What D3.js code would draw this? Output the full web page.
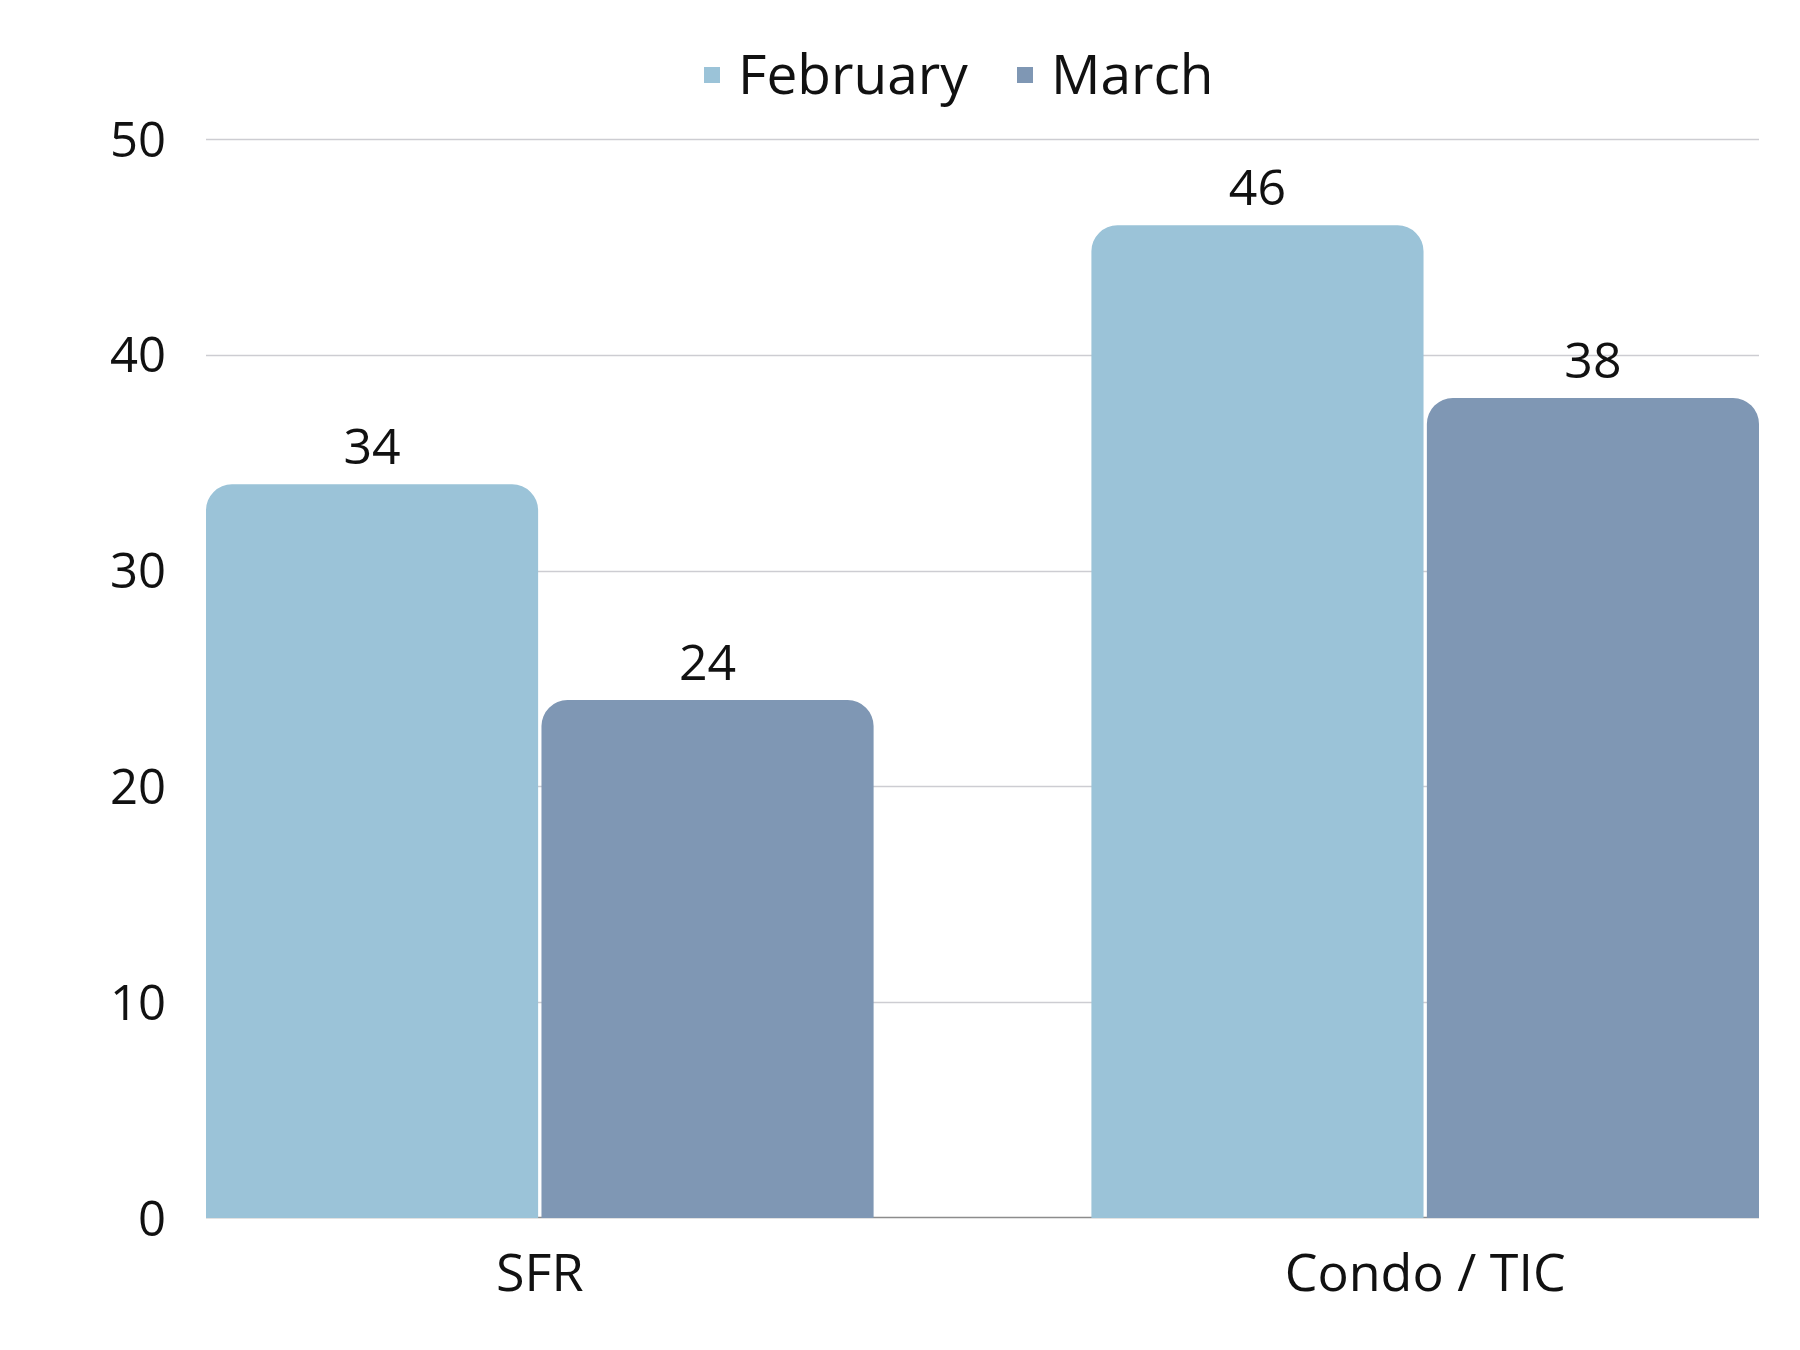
<!DOCTYPE html>
<html>
<head>
<meta charset="utf-8">
<script src="https://cdn.jsdelivr.net/npm/d3@7"></script>
<style>
  html, body { margin: 0; padding: 0; background: #fff; }
  svg { display: block; font-family: "Open Sans", "Noto Sans", sans-serif; }
</style>
</head>
<body>
<svg id="chart" width="1800" height="1350"></svg>
<script>
const categories = ["SFR", "Condo / TIC"];
const seriesNames = ["February", "March"];
const february = [34, 46];
const march = [24, 38];
const yTicks = [0, 10, 20, 30, 40, 50];
const colors = ["#9BC3D8", "#7F97B4"];

const svg = d3.select("#chart");
const W = 1800, H = 1350;
const m = { left: 206, right: 41, top: 139, bottom: 132 };
const x0 = d3.scaleBand().domain(categories).range([m.left, W - m.right]).paddingInner(0.246).paddingOuter(0);
const x1 = d3.scaleBand().domain(seriesNames).range([0, x0.bandwidth()]).paddingInner(0.01);
const y = d3.scaleLinear().domain([0, 50]).range([H - m.bottom, m.top]);

const values = { February: february, March: march };
const data = categories.map((c, i) => ({ cat: c, vals: seriesNames.map((s, j) => ({ s, v: values[s][i], color: colors[j] })) }));

// gridlines
svg.append("g").selectAll("line").data(yTicks.filter(t => t > 0)).join("line")
  .attr("x1", m.left).attr("x2", W - m.right)
  .attr("y1", d => Math.round(y(d)) + 0.5).attr("y2", d => Math.round(y(d)) + 0.5)
  .attr("stroke", "#CDCDD2").attr("stroke-width", 1.3);
svg.append("line").attr("x1", m.left).attr("x2", W - m.right)
  .attr("y1", y(0) - 0.5).attr("y2", y(0) - 0.5).attr("stroke", "#8C8C8C").attr("stroke-width", 1.3);

// y axis labels
const yAxis = d3.axisLeft(y).tickValues(yTicks).tickSize(0).tickPadding(0);
const ga = svg.append("g").attr("transform", `translate(166,0)`).call(yAxis);
ga.select(".domain").remove();
ga.selectAll("text").attr("font-size", 49).attr("fill", "#111").attr("font-family", "'Open Sans', sans-serif").attr("dy", "0.35em");

// bars with rounded tops
const r = 26;
function barPath(x, yt, w, yb) {
  const rr = Math.min(r, (yb - yt), w / 2);
  return `M${x},${yb}V${yt + rr}A${rr},${rr} 0 0 1 ${x + rr},${yt}H${x + w - rr}A${rr},${rr} 0 0 1 ${x + w},${yt + rr}V${yb}Z`;
}
const groups = svg.append("g").selectAll("g").data(data).join("g")
  .attr("transform", d => `translate(${x0(d.cat)},0)`);
groups.selectAll("path").data(d => d.vals).join("path")
  .attr("d", d => barPath(x1(d.s), y(d.v), x1.bandwidth(), y(0)))
  .attr("fill", d => d.color);
groups.selectAll("text").data(d => d.vals).join("text")
  .attr("x", d => x1(d.s) + x1.bandwidth() / 2)
  .attr("y", d => y(d.v) - 20)
  .attr("text-anchor", "middle").attr("font-size", 50).attr("fill", "#111")
  .text(d => d.v);

// category labels
svg.append("g").selectAll("text").data(categories).join("text")
  .attr("x", d => x0(d) + x0.bandwidth() / 2).attr("y", 1291)
  .attr("text-anchor", "middle").attr("font-size", 52).attr("fill", "#111")
  .text(d => d);

// legend
const legendItems = [{ name: "February", color: colors[0], x: 704 }, { name: "March", color: colors[1], x: 1017 }];
const lg = svg.append("g").selectAll("g").data(legendItems).join("g")
  .attr("transform", d => `translate(${d.x},0)`);
lg.append("rect").attr("x", 0).attr("y", 67).attr("width", 16).attr("height", 16).attr("fill", d => d.color);
lg.append("text").attr("x", 34).attr("y", 94).attr("font-size", 55).attr("fill", "#111").text(d => d.name);
</script>
</body>
</html>
